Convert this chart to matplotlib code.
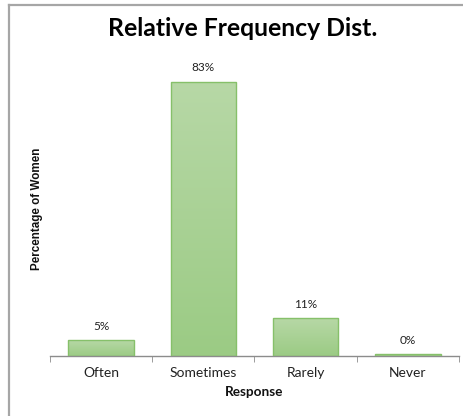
import matplotlib
matplotlib.use("Agg")
import matplotlib.pyplot as plt
from matplotlib.lines import Line2D
from matplotlib.colors import LinearSegmentedColormap
import numpy as np

categories = ["Often", "Sometimes", "Rarely", "Never"]
percentages = [4.7, 83.0, 11.4, 0.4]

title = "Relative Frequency Dist."
x_label = "Response"
y_label = "Percentage of Women"

W, H = 464, 416
fig = plt.figure(figsize=(W / 100, H / 100), dpi=100)
fig.patch.set_facecolor("white")

# chart frame (top and left edges visible)
fig.add_artist(Line2D([9.5 / W, 9.5 / W], [0, 1 - 4.5 / H], transform=fig.transFigure,
                      color="#a6a6a6", lw=1.6))
fig.add_artist(Line2D([9.5 / W, 1], [1 - 4.5 / H, 1 - 4.5 / H], transform=fig.transFigure,
                      color="#a6a6a6", lw=1.6))

left, right = 50 / W, 459 / W
bottom, top = 1 - 355.5 / H, 1 - 58.5 / H
ax = fig.add_axes([left, bottom, right - left, top - bottom])

x = np.arange(len(categories))
bars = ax.bar(x, percentages, width=0.64, color="none", edgecolor="#86c06a", linewidth=1.0, zorder=3)

# vertical gradient fill inside each bar
grad = np.linspace(0, 1, 256).reshape(-1, 1)
cmap = LinearSegmentedColormap.from_list("g", ["#9bcb84", "#b7d8a6"])
for b in bars:
    x0, y0 = b.get_x(), b.get_y()
    w, h = b.get_width(), b.get_height()
    im = ax.imshow(grad, extent=[x0, x0 + w, y0, y0 + h], origin="lower", cmap=cmap,
                   aspect="auto", zorder=2)
    im.set_clip_path(b)

ax.set_xlim(-0.5, len(categories) - 0.5)
ax.set_ylim(0, 90)

font = "Lato"
for xi, v in zip(x, percentages):
    ax.annotate(f"{v:.0f}%", (xi, v), xytext=(0, 6), textcoords="offset points",
                ha="center", va="bottom", fontsize=8.5, family=font, color="#222222")

for s in ["top", "right", "left"]:
    ax.spines[s].set_visible(False)
ax.spines["bottom"].set_color("#8c8c8c")
ax.spines["bottom"].set_linewidth(1.0)
ax.set_yticks([])

ax.set_xticks(x)
ax.set_xticklabels(categories, fontsize=10, family=font, color="#222222")
ax.tick_params(axis="x", which="major", length=0, pad=8)
ax.set_xticks(np.arange(-0.5, len(categories)), minor=True)
ax.tick_params(axis="x", which="minor", length=4, color="#8c8c8c", direction="out")

fig.text(254 / W, 1 - 392 / H, x_label, ha="center", va="center", fontsize=9.8,
         fontweight="bold", family=font, color="#111111")
fig.text(37 / W, 1 - 209 / H, y_label, ha="center", va="center", rotation=90,
         fontsize=8.4, fontweight="bold", family="Liberation Sans", color="#111111")
fig.text(243 / W, 1 - 29 / H, title, ha="center", va="center", fontsize=17.8,
         fontweight="bold", family=font, color="#000000")

fig.savefig("out.png", dpi=100, facecolor="white")
